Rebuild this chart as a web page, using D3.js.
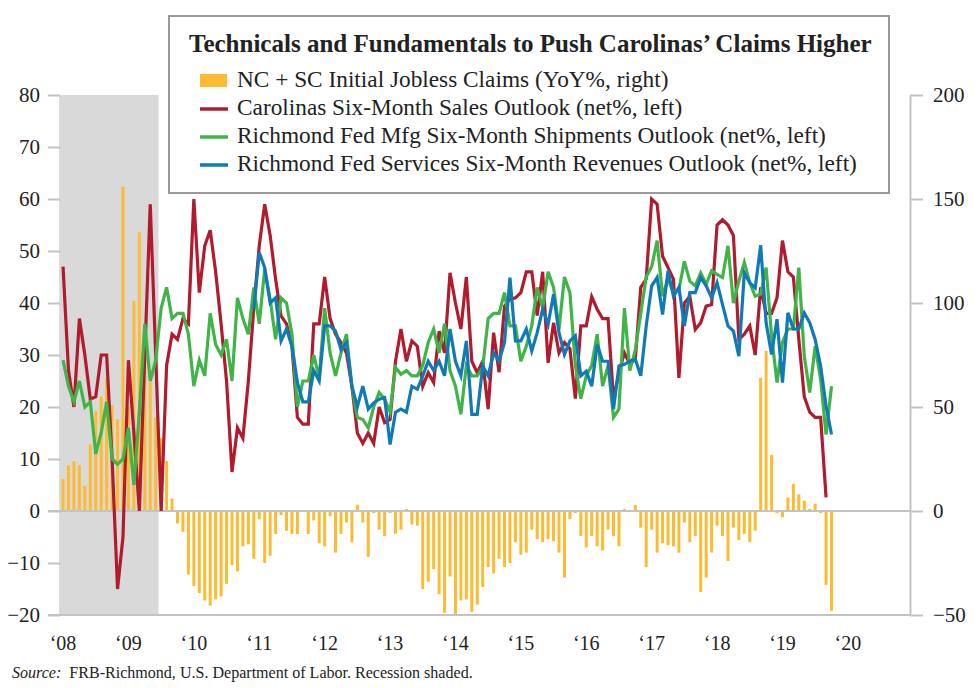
<!DOCTYPE html>
<html>
<head>
<meta charset="utf-8">
<script src="https://cdn.jsdelivr.net/npm/d3@7"></script>
<style>
  body { margin: 0; background: #fff; }
  svg text { font-family: "Liberation Serif", "DejaVu Serif", serif; fill: #222; }
</style>
</head>
<body>
<div id="chart"></div>
<script>
// monthly data, Jan 2008 onward (blue starts Dec 2010)
const claimsYoY = [
  15.5, 22, 24, 22, 12, 32, 48, 55, 63.5, 51, 44, 156,          // 2008
  50, 101, 134, 70, 62, 45, 35, 24, 6, -6, -10, -30.5,           // 2009
  -36, -39.5, -43, -45.5, -42.5, -41, -35, -26, -29, -17, -16, -23,
  -4, -25, -21.5, -11, -2, -9.5, -11, -11, -0.5, -11, -4.5, -15.5,
  -17, -2.5, -20, -11, -5.5, -15, 3, -5.5, -22, -1, -9, -12,
  -1, -11, -9, 1, -6.5, -7, -37.5, -34, -28, -40, -49, -31.5,
  -49.5, -43, -42.5, -48.5, -45, -36.5, -27, -30, -23, -27, -25, -15,
  -21, -20, -9, -13.5, -15, -13.5, -14.5, -20, -32, -4, -1, -12,
  -17.5, -12, -17, -19, -9, -12, -17, 1, 0.5, 3, -8, -27,
  -9, -20, -15.5, -16.5, -17, -20, -5.5, -15, -12, -39, -32, -20,
  -7, -12, -24, -8, -14, -11, -15, -9.5, 64, 77, 27, -1,
  -3, 6.5, 13, 8, 5, 1, 3.5, -1, -35.5, -48                      // 2019
];
const carolinasSales = [
  47, 27, 20, 37, 30, 21.5, 22, 30, 30, 10, -15, -5,
  29, 15, 0, 30, 59, 30, 0, 28, 34, 33, 37, 36,
  60, 42, 51, 54, 46, 36, 25, 7.5, 16, 14, 25, 39,
  51, 59, 53, 44.6, 37.5, 36, 31.7, 18, 16.7, 16.7, 36, 36,
  45, 37, 34, 32.4, 30.4, 24, 15, 13, 15, 13, 20, 17,
  17.6, 28.8, 35, 28.8, 32.7, 31.7, 24, 26.6, 24.7, 34.6, 30.4, 45.8,
  40, 35, 45, 28.8, 26.6, 28.8, 19.6, 34.3, 26.7, 39.4, 40.7, 41,
  42, 46, 46, 37.6, 46, 28.5, 36.2, 30.4, 32.4, 31.2, 21.6, 35.6,
  35.6, 41.2, 38.8, 37, 37, 21.5, 26.6, 30.4, 28.2, 29.2, 43, 44.6,
  60, 59, 49, 46.8, 44.6, 25.6, 40, 41.3, 34.9, 36.2, 39.4, 39.7,
  55, 56, 55, 53, 33, 34, 35.6, 30, 43, 38, 38, 41,
  52, 46, 45, 33, 22, 19, 18, 18, 2.6
];
const mfgShipments = [
  29, 24, 21, 25, 20, 21, 11, 15, 21, 10, 9, 10,
  16, 5, 19, 36, 25, 29, 39, 43, 37, 38, 38, 34,
  24, 29, 26, 38, 32, 30, 33, 25, 41, 37, 34, 43,
  36, 46.5, 40.7, 33, 41, 40, 34, 20, 25, 25, 30, 25.6,
  39, 30.4, 26, 30.4, 34, 24, 18, 17.6, 16, 20, 22.8, 21.5,
  19, 27.6, 26.3, 27, 26, 26, 28, 32.4, 35, 30.4, 36, 27,
  24, 18.6, 28, 26, 26, 27.6, 37, 38, 38, 42, 35.6, 35.6,
  28.8, 31.7, 35.6, 43, 39, 46, 43, 35, 45, 42, 28, 21.6,
  26, 28, 34, 24, 28, 18, 19.6, 39, 27, 31, 38, 45,
  47, 52, 41.3, 44.6, 42, 42.6, 48, 44.2, 43.3, 45.8, 43.6, 46.2,
  45.5, 44.9, 51, 40, 44.2, 47.8, 43.9, 41.3, 41.7, 46.8, 33.7, 24.7,
  32.4, 35, 35, 46.8, 29.8, 22.8, 31.7, 25.3, 14.7, 24
];
const servicesStart = 35; // Dec 2010
const servicesRevenues = [
  38.8,
  49.7, 46.8, 40, 41, 32.7, 35, 31.7, 24.7, 21, 21, 27, 25,
  35.6, 35.6, 34.6, 31, 32.4, 24, 20, 24, 19.6, 20.8, 21.5, 21.8,
  12.8, 19, 19.6, 19, 24, 23.4, 26, 28.8, 27, 28.8, 26, 35,
  28.8, 26, 32.7, 18.6, 18.6, 27.9, 26, 30.4, 28.8, 32.4, 44.9, 32.7,
  32.7, 35, 30.8, 34.3, 38.8, 35.9, 41.7, 34.3, 30.1, 32.7, 33.7, 26,
  26.9, 24, 32, 28.8, 28.8, 19.6, 27.9, 28.2, 28.8, 29.2, 26, 35.6,
  43.3, 44.9, 37.8, 46.2, 41.3, 43, 35.6, 42, 42, 44.9, 43.3, 41,
  43.9, 39.7, 35.6, 34.6, 29.8, 45.8, 43.9, 42.9, 51.1, 36.2, 30.1, 36.9,
  24.7, 38.1, 35, 35, 38.1, 36.2, 33, 27.9, 20.2, 14.7
];
const recession = [2007.94, 2009.46];
const yearTicks = d3.range(2008, 2021);
const leftTicks = d3.range(-20, 81, 10);
const rightTicks = d3.range(-50, 201, 50);
const legendItems = [
  { label: "NC + SC Initial Jobless Claims (YoY%, right)", color: "#fdbb33", type: "bar" },
  { label: "Carolinas Six-Month Sales Outlook (net%, left)", color: "#b01c2e", type: "line" },
  { label: "Richmond Fed Mfg Six-Month Shipments Outlook (net%, left)", color: "#40b449", type: "line" },
  { label: "Richmond Fed Services Six-Month Revenues Outlook (net%, left)", color: "#107ab7", type: "line" }
];

const W = 980, H = 688;
const axisGray = "#c3c3c3";
const monthT = i => 2008 + i / 12;

const svg = d3.select("#chart").append("svg").attr("width", W).attr("height", H);

const x = d3.scaleLinear().domain([2007.77, 2020.95]).range([48, 910]);
const yL = d3.scaleLinear().domain([-20, 80]).range([615, 95]);
const yR = d3.scaleLinear().domain([-50, 200]).range([615, 95]);

// recession shading
svg.append("rect")
  .attr("x", x(recession[0])).attr("y", yL(80))
  .attr("width", x(recession[1]) - x(recession[0]))
  .attr("height", yL(-20) - yL(80))
  .attr("fill", "#d9d9d9");

// claims bars
svg.append("g").selectAll("rect")
  .data(claimsYoY)
  .join("rect")
  .attr("x", (d, i) => x(monthT(i)) - 1.5)
  .attr("width", 3)
  .attr("y", d => Math.min(yR(d), yR(0)))
  .attr("height", d => Math.abs(yR(d) - yR(0)))
  .attr("fill", "#fdbb33");

// zero line and bottom line
[0, -50].forEach(v => {
  svg.append("line")
    .attr("x1", 48).attr("x2", 910)
    .attr("y1", yR(v)).attr("y2", yR(v))
    .attr("stroke", axisGray).attr("stroke-width", 2);
});

// left axis (ticks pointing inward, no domain)
const gL = svg.append("g").attr("transform", "translate(48,0)")
  .call(d3.axisLeft(yL).tickValues(leftTicks).tickSize(-12).tickPadding(8));
gL.select(".domain").remove();

// right axis
const gR = svg.append("g").attr("transform", "translate(910,0)")
  .call(d3.axisRight(yR).tickValues(rightTicks).tickSize(13).tickSizeOuter(0).tickPadding(10));

[gL, gR].forEach(g => {
  g.selectAll("line").attr("stroke", axisGray).attr("stroke-width", 2);
  g.select(".domain").attr("stroke", axisGray).attr("stroke-width", 2);
  g.selectAll("text").attr("font-size", 21)
    .attr("font-family", "Liberation Serif, serif").attr("fill", "#222");
});

// x labels
svg.append("g").selectAll("text")
  .data(yearTicks)
  .join("text")
  .attr("x", d => x(d))
  .attr("y", 650)
  .attr("text-anchor", "middle")
  .attr("font-size", 20)
  .text(d => "\u2018" + String(d).slice(2));

// lines
const lineL = d3.line().x(d => x(d.t)).y(d => yL(d.v));
const series = [
  { values: carolinasSales, start: 0, color: legendItems[1].color },
  { values: mfgShipments, start: 0, color: legendItems[2].color },
  { values: servicesRevenues, start: servicesStart, color: legendItems[3].color }
];
series.forEach(s => {
  svg.append("path")
    .datum(s.values.map((v, i) => ({ t: monthT(s.start + i), v })))
    .attr("fill", "none")
    .attr("stroke", s.color)
    .attr("stroke-width", 3.2)
    .attr("d", lineL);
});

// legend box
const lg = svg.append("g");
lg.append("rect")
  .attr("x", 169).attr("y", 16).attr("width", 720).attr("height", 177)
  .attr("fill", "#fff").attr("stroke", "#9a9a9a").attr("stroke-width", 2);

// fit a text element to a target width by scaling its font size
function fitWidth(sel, target) {
  const w = sel.node().getComputedTextLength();
  const fs = parseFloat(sel.attr("font-size"));
  sel.attr("font-size", (fs * target / w).toFixed(2));
}

const title = lg.append("text")
  .attr("x", 189).attr("y", 52)
  .attr("font-size", 22).attr("font-weight", "bold")
  .text("Technicals and Fundamentals to Push Carolinas\u2019 Claims Higher");
fitWidth(title, 683);

legendItems.forEach((d, i) => {
  const yb = 87 + i * 28;
  if (d.type === "bar") {
    lg.append("rect").attr("x", 200).attr("y", yb - 13).attr("width", 27).attr("height", 13)
      .attr("fill", d.color);
  } else {
    lg.append("line").attr("x1", 200).attr("x2", 228).attr("y1", yb - 6).attr("y2", yb - 6)
      .attr("stroke", d.color).attr("stroke-width", 3.5);
  }
  const t = lg.append("text").attr("x", 237).attr("y", yb).attr("font-size", 21).text(d.label);
  if (i === 3) fitWidth(t, 620);
});
const fsLegend = lg.selectAll("text").filter((d, i, n) => i === 4).attr("font-size");
lg.selectAll("text").filter((d, i) => i > 0).attr("font-size", fsLegend);

// source
const src = svg.append("text").attr("x", 12).attr("y", 678).attr("font-size", 15);
src.append("tspan").attr("font-style", "italic").text("Source:");
src.append("tspan").text("\u00a0 FRB-Richmond, U.S. Department of Labor. Recession shaded.");
fitWidth(src, 461);
</script>
</body>
</html>
